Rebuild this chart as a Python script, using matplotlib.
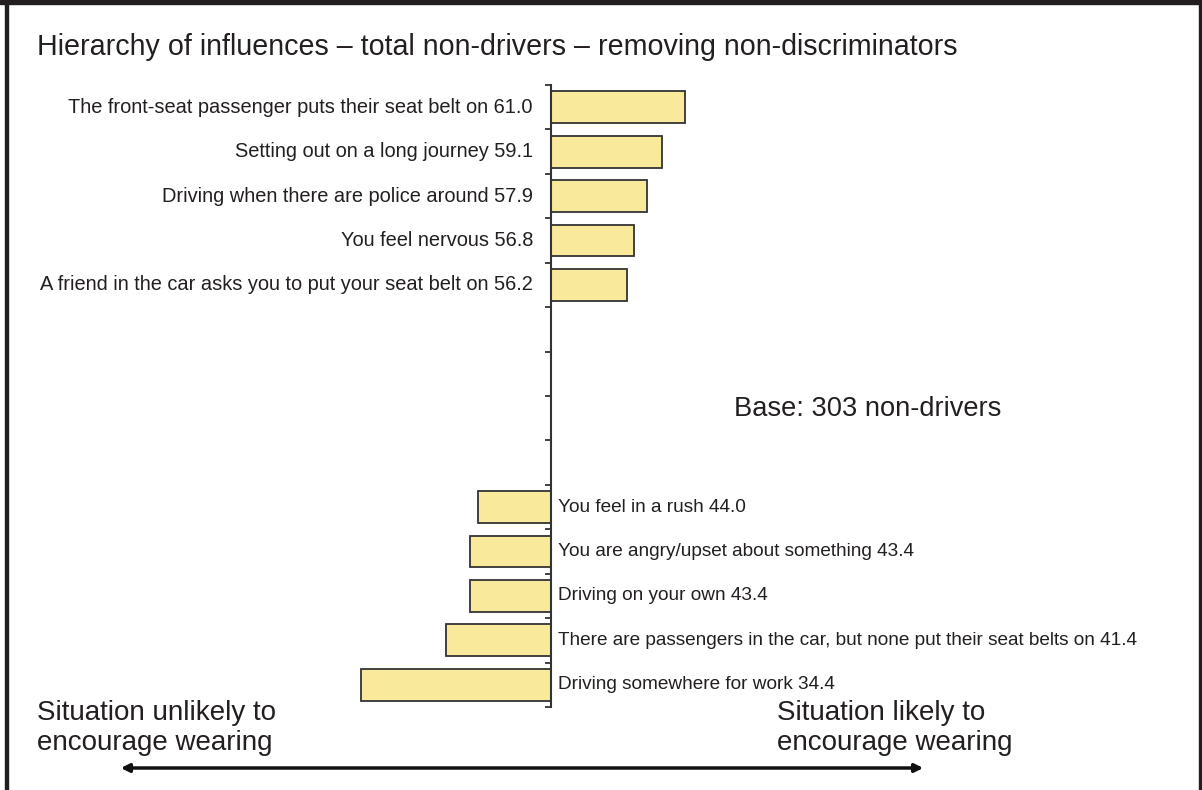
import matplotlib
matplotlib.use("Agg")
import matplotlib.pyplot as plt
from matplotlib.patches import Rectangle, FancyArrowPatch

plt.rcParams['font.family'] = ['Liberation Sans', 'DejaVu Sans']

title = "Hierarchy of influences \u2013 total non-drivers \u2013 removing non-discriminators"
top_labels = [
    "The front-seat passenger puts their seat belt on",
    "Setting out on a long journey",
    "Driving when there are police around",
    "You feel nervous",
    "A friend in the car asks you to put your seat belt on",
]
top_values = [61.0, 59.1, 57.9, 56.8, 56.2]
bottom_labels = [
    "You feel in a rush",
    "You are angry/upset about something",
    "Driving on your own",
    "There are passengers in the car, but none put their seat belts on",
    "Driving somewhere for work",
]
bottom_values = [44.0, 43.4, 43.4, 41.4, 34.4]
n_gap = 4
midpoint = 50.0
base_text = "Base: 303 non-drivers"
left_note = ["Situation unlikely to", "encourage wearing"]
right_note = ["Situation likely to", "encourage wearing"]

TXT = '#231f20'
BAR = '#f9e99b'

W, H = 1202, 790
fig = plt.figure(figsize=(W / 100, H / 100), dpi=100)

# axes: x pixels 100..1100, y pixels 85..707 (from top)
ax = fig.add_axes([100 / W, 1 - 707 / H, 1000 / W, (707 - 85) / H])
px_per_unit = 12.2
xmin = midpoint - (551 - 100) / px_per_unit
ax.set_xlim(xmin, xmin + 1000 / px_per_unit)

n_total = len(top_values) + n_gap + len(bottom_values)
ax.set_ylim(n_total - 0.5, -0.5)

top_pos = list(range(len(top_values)))
bot_pos = list(range(len(top_values) + n_gap, n_total))

ax.barh(top_pos, [v - midpoint for v in top_values], left=midpoint, height=0.72,
        color=BAR, edgecolor='#333333', linewidth=1.3)
ax.barh(bot_pos, [v - midpoint for v in bottom_values], left=midpoint, height=0.72,
        color=BAR, edgecolor='#333333', linewidth=1.3)

for p, lab, v in zip(top_pos, top_labels, top_values):
    ax.annotate(f"{lab} {v:.1f}", xy=(midpoint, p), xytext=(-13, 0),
                textcoords='offset points', ha='right', va='center',
                fontsize=14.4, color=TXT)
for p, lab, v in zip(bot_pos, bottom_labels, bottom_values):
    ax.annotate(f"{lab} {v:.1f}", xy=(midpoint, p), xytext=(5, 0),
                textcoords='offset points', ha='left', va='center',
                fontsize=13.7, color=TXT)

for s in ['top', 'right', 'bottom']:
    ax.spines[s].set_visible(False)
ax.spines['left'].set_position(('data', midpoint))
ax.spines['left'].set_color('#333333')
ax.spines['left'].set_linewidth(1.5)
ax.set_yticks([i - 0.5 for i in range(n_total + 1)])
ax.set_yticklabels([])
ax.tick_params(axis='y', direction='out', length=4, width=1.3, color='#333333')
ax.set_xticks([])

fig.text(37 / W, 1 - 47 / H, title, fontsize=20.6, color=TXT, ha='left', va='center')
fig.text(734 / W, 1 - 409 / H, base_text, fontsize=19.6, color=TXT, ha='left', va='center')
for x0, lines in ((37, left_note), (777, right_note)):
    for yb, line in zip((720, 750), lines):
        fig.text(x0 / W, 1 - yb / H, line, fontsize=20, color=TXT, ha='left',
                 va='baseline')

arrow = FancyArrowPatch((118 / W, 1 - 768 / H), (926 / W, 1 - 768 / H),
                        transform=fig.transFigure, arrowstyle='<|-|>',
                        mutation_scale=12, color='#111111', linewidth=2.5)
fig.patches.append(arrow)

# frame
frame_col = '#231f20'
fig.patches.append(Rectangle((0, 1 - 4 / H), 1, 4 / H, transform=fig.transFigure,
                             color=frame_col, zorder=10))
fig.patches.append(Rectangle((5 / W, 0), 3 / W, 1, transform=fig.transFigure,
                             color=frame_col, zorder=10))
fig.patches.append(Rectangle((1 - 3 / W, 0), 3 / W, 1, transform=fig.transFigure,
                             color=frame_col, zorder=10))

fig.savefig('out.png', dpi=100)
